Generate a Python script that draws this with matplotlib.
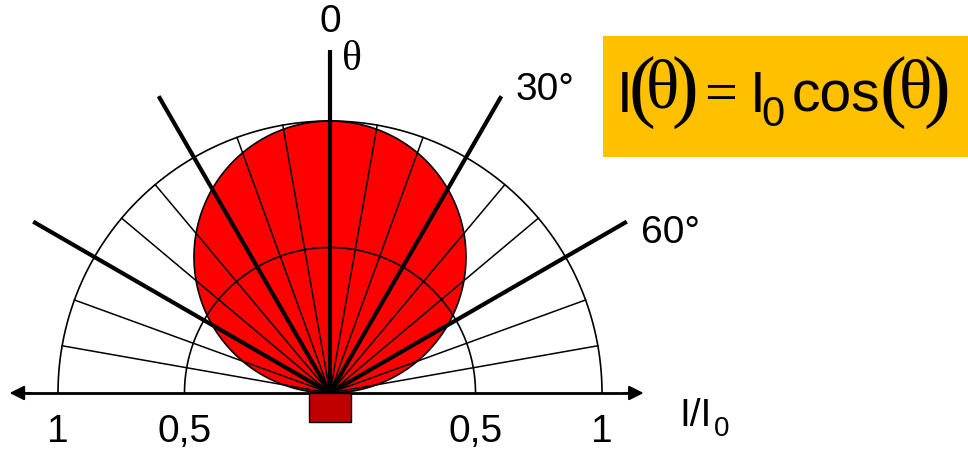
import numpy as np
import matplotlib.pyplot as plt
from matplotlib.patches import Rectangle, Polygon

# grid and data
grid_angles = np.arange(-80, 81, 10)        # degrees from the normal
thick_angles = [-60, -30, 0, 30, 60]
ring_radii = [0.535, 1.0]
tick_pos = [-1.0, -0.535, 0.535, 1.0]
tick_labels = ['1', '0,5', '0,5', '1']
angle_labels = ['0', '30°', '60°']

W, H = 968, 455
ox, oy, R = 330, 393, 272   # origin in px, pixels per unit

fig = plt.figure(figsize=(W / 100, H / 100), dpi=100)
ax = fig.add_axes([0, 0, 1, 1])
ax.set_xlim(-ox / R, (W - ox) / R)
ax.set_ylim(-(H - oy) / R, oy / R)
ax.axis('off')

# Lambert lobe I = cos(theta)
th = np.radians(np.linspace(-90, 90, 361))
r = np.cos(th)
ax.add_patch(Polygon(np.c_[r * np.sin(th), r * np.cos(th)], closed=True,
                     fc='#ff0000', ec='black', lw=1.2, zorder=2))

# rings
for rr in ring_radii:
    t = np.radians(np.linspace(-90, 90, 361))
    ax.plot(rr * np.sin(t), rr * np.cos(t), color='black', lw=1.2, zorder=3)

# thin radial lines
for a in grid_angles:
    if a in thick_angles:
        continue
    t = np.radians(a)
    ax.plot([0, np.sin(t)], [0, np.cos(t)], color='black', lw=1.1, zorder=3)

# thick lines
for a in thick_angles:
    t = np.radians(a)
    L = 1.26
    ax.plot([0, L * np.sin(t)], [0, L * np.cos(t)], color='black', lw=3,
            zorder=4, solid_capstyle='butt')

# horizontal axis with arrows
ax.plot([-1.13, 1.11], [0, 0], color='black', lw=2, zorder=4)
ax.annotate('', xy=(-1.178, 0), xytext=(-1.10, 0),
            arrowprops=dict(arrowstyle='-|>', color='black', lw=1.5,
                            mutation_scale=22, shrinkA=0, shrinkB=0), zorder=5)
ax.annotate('', xy=(1.153, 0), xytext=(1.08, 0),
            arrowprops=dict(arrowstyle='-|>', color='black', lw=1.5,
                            mutation_scale=22, shrinkA=0, shrinkB=0), zorder=5)

# emitter
ax.add_patch(Rectangle((-0.079, -0.107), 0.158, 0.107, fc='#c00000',
                       ec='black', lw=1, zorder=5))

# text overlay in pixel coords
tx = fig.add_axes([0, 0, 1, 1], zorder=10)
tx.set_xlim(0, W)
tx.set_ylim(H, 0)
tx.axis('off')
tx.patch.set_alpha(0)

sans = 'Liberation Sans'
serif = 'Liberation Serif'
fs = 28

for p, lab in zip(tick_pos, tick_labels):
    tx.text(ox + p * R, 432, lab, fontsize=fs, family=sans, ha='center', va='center')

tx.text(ox, 22, angle_labels[0], fontsize=fs, family=sans, ha='center', va='center')
tx.text(352, 60, 'θ', fontsize=30, family=serif, ha='center', va='center')
tx.text(516, 90, angle_labels[1], fontsize=fs, family=sans, ha='left', va='center')
tx.text(641, 233, angle_labels[2], fontsize=fs, family=sans, ha='left', va='center')

tx.text(679, 426, 'I/I', fontsize=fs, family=sans, ha='left', va='baseline')
tx.text(714, 436, '0', fontsize=20, family=sans, ha='left', va='baseline')

# formula box
tx.add_patch(Rectangle((603, 36), 370, 121, fc='#ffc000', ec='none'))
base = 112
tx.text(617, base, 'I', fontsize=41, family=sans, ha='left', va='baseline')
tx.text(642, 93, '(', fontsize=58, family=serif, ha='center', va='center')
tx.text(662, 91, 'θ', fontsize=50, family=serif, ha='center', va='center')
tx.text(685, 93, ')', fontsize=58, family=serif, ha='center', va='center')
tx.text(721, 97, '=', fontsize=42, family=serif, ha='center', va='center')
tx.text(750, base, 'I', fontsize=41, family=sans, ha='left', va='baseline')
tx.text(761, 126, '0', fontsize=30, family=sans, ha='left', va='baseline')
tx.text(792, base, 'cos', fontsize=41, family=sans, ha='left', va='baseline')
tx.text(893, 93, '(', fontsize=58, family=serif, ha='center', va='center')
tx.text(915, 91, 'θ', fontsize=50, family=serif, ha='center', va='center')
tx.text(937, 93, ')', fontsize=58, family=serif, ha='center', va='center')

fig.savefig('out.png', dpi=100)
